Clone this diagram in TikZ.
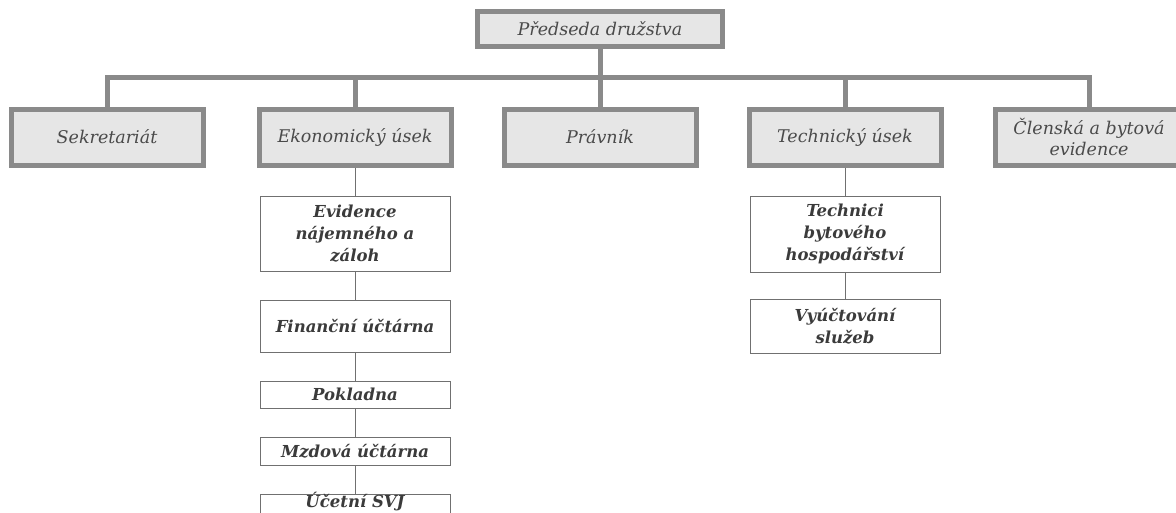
\documentclass[tikz,border=0pt]{standalone}
\usepackage{fontspec}
\setmainfont{DejaVu Serif}
\usetikzlibrary{positioning}

\definecolor{framegray}{HTML}{8A8A8A}
\definecolor{fillgray}{HTML}{E6E6E6}
\definecolor{textgray}{HTML}{4A4A4A}
\definecolor{linegray}{HTML}{707070}

\begin{document}
\begin{tikzpicture}[x=1pt,y=-1pt,node distance=28pt,
                    head/.style={draw=framegray,line width=5pt,fill=fillgray,text=textgray,
                      font=\itshape\fontsize{17.5}{21}\selectfont,align=center,inner sep=2pt,
                      minimum width=192pt,minimum height=56pt},
                    sub/.style={draw=linegray,line width=1pt,fill=white,text=textgray!80!black,
                      font=\bfseries\itshape\fontsize{16.5}{22}\selectfont,align=center,inner sep=1pt,
                      minimum width=190pt},
                    bar/.style={draw=framegray,line width=5pt},
                    link/.style={draw=linegray,line width=1pt}]
  \useasboundingbox (0,0) rectangle (1176,512);

  \node[head,minimum width=245pt,minimum height=35pt] (pred) at (600,28.5) {Předseda družstva};
  \coordinate (mid) at (600,77);

  \node[head] (sek)  at (107,137)  {Sekretariát};
  \node[head] (eko)  at (355,137)  {Ekonomický úsek};
  \node[head] (prav) at (600,137)  {Právník};
  \node[head] (tech) at (845,137)  {Technický úsek};
  \node[head,minimum width=187pt] (clen) at (1089,137) {Členská a bytová\\evidence};

  % economic section
  \node[sub,minimum height=75pt] (e1) [below=of eko] {Evidence\\nájemného a\\záloh};
  \node[sub,minimum height=52pt] (e2) [below=of e1]  {Finanční účtárna};
  \node[sub,minimum height=27pt] (e3) [below=of e2]  {Pokladna};
  \node[sub,minimum height=28pt] (e4) [below=of e3]  {Mzdová účtárna};
  \node[sub,text height=12pt,text depth=14pt] (e5) [below=of e4]  {Účetní SVJ};

  % technical section
  \node[sub,minimum height=76pt] (t1) [below=of tech] {Technici\\bytového\\hospodářství};
  \node[sub,minimum height=54pt] (t2) [below=26pt of t1] {Vyúčtování\\služeb};

  \draw[bar] (pred) -- (mid);
  \foreach \n in {sek,eko,prav,tech,clen}
    \draw[bar] (mid) -| (\n.north);

  \path[link] (eko) edge (e1)
              (e1) edge (e2)
              (e2) edge (e3)
              (e3) edge (e4)
              (e4) edge (e5)
              (tech) edge (t1)
              (t1) edge (t2);
\end{tikzpicture}
\end{document}
